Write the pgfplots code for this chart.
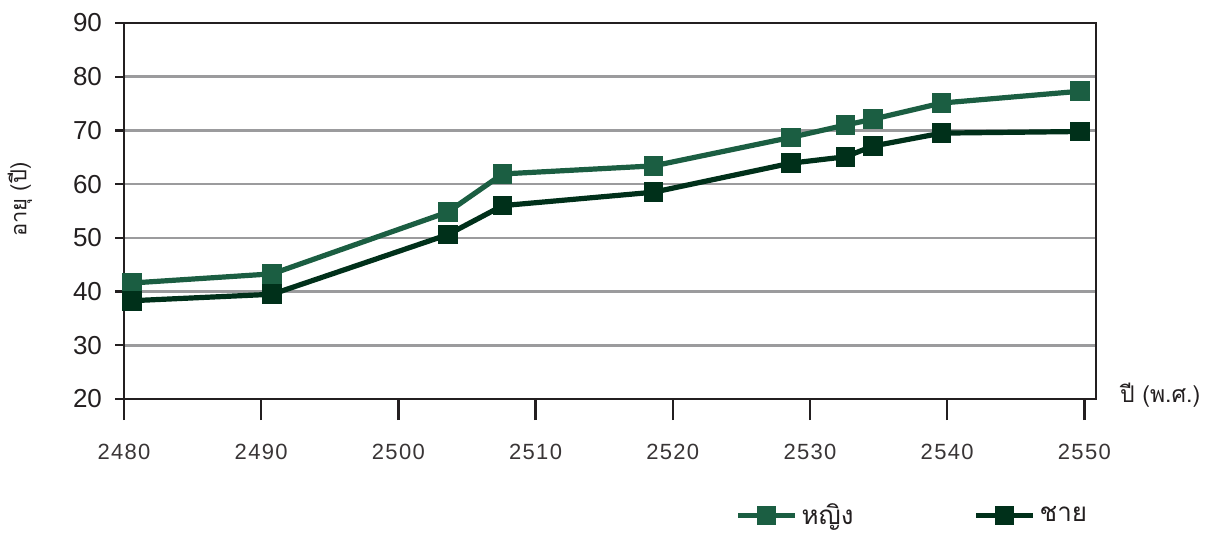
\documentclass[border=0pt]{standalone}
\usepackage{fontspec}
\setmainfont{Liberation Sans}
\newfontfamily\thaifont[Script=Thai]{Loma}
\newfontfamily\xfont[LetterSpace=6]{Liberation Sans}
\usepackage{pgfplots}
\pgfplotsset{compat=1.18}
\definecolor{fem}{HTML}{1B5E42}
\definecolor{mal}{HTML}{00301A}
\definecolor{txt}{HTML}{231F20}
\definecolor{gridc}{HTML}{9B9B9D}
\pgfplotsset{geom/.style={
  at={(62pt,68.5pt)}, anchor=south west,
  scale only axis, width=486pt, height=188pt,
  xmin=2480, xmax=2550.85, ymin=20, ymax=90,
  tick align=outside,
  axis line style={line width=1.2pt, txt},
}}
\begin{document}
\begin{tikzpicture}
\useasboundingbox (0,0) rectangle (606.5pt,268pt);
\begin{axis}[
  geom,
  clip=false,
  xtick=\empty,
  ytick={20,30,40,50,60,70,80,90},
  yticklabels={20,30,40,50,60,70,80,90},
  ytick pos=left,
  major tick length=4.5pt,
  y tick style={line width=1.2pt, txt},
  ymajorgrids, grid style={line width=1.3pt, gridc},
  yticklabel style={font=\fontsize{13}{14}\selectfont, text=txt, xshift=-3pt},
  ylabel={\thaifont อายุ (ปี)},
  ylabel style={at={(axis description cs:-0.107,0.53)}, anchor=center, font=\fontsize{11}{12}\selectfont, text=txt},
  xlabel={\thaifont ปี (พ.ศ.)},
  xlabel style={at={(axis description cs:1.066,0.01)}, anchor=center, font=\fontsize{11.5}{12}\selectfont, text=txt},
  legend columns=2,
  legend style={at={(0.812,-0.31)}, anchor=center, draw=none, fill=none,
    font=\thaifont\fontsize{13}{14}\selectfont, text=txt,
    /tikz/every even column/.append style={column sep=58pt}},
  legend image code/.code={\draw[mark repeat=2,mark phase=2] plot coordinates {(0cm,0cm) (0.5cm,0cm) (1cm,0cm)};},
]
\addplot[fem, line width=2.6pt, mark=square*, mark size=3.6pt, mark options={solid}] coordinates {
  (2480.6,41.6) (2490.8,43.3) (2503.6,54.8) (2507.6,61.9) (2518.6,63.4)
  (2528.6,68.7) (2532.6,71.0) (2534.6,72.1) (2539.6,75.1) (2549.7,77.3)
};
\addlegendentry{หญิง}
\addplot[mal, line width=2.6pt, mark=square*, mark size=3.6pt, mark options={solid}] coordinates {
  (2480.6,38.3) (2490.8,39.5) (2503.6,50.6) (2507.6,56.0) (2518.6,58.5)
  (2528.6,63.9) (2532.6,65.1) (2534.6,67.1) (2539.6,69.5) (2549.7,69.8)
};
\addlegendentry{ชาย}
\end{axis}
\begin{axis}[
  geom,
  hide y axis,
  axis x line*=bottom,
  xtick={2480,2490,2500,2510,2520,2530,2540,2550},
  xticklabels={2480,2490,2500,2510,2520,2530,2540,2550},
  major tick length=10.5pt,
  x tick style={line width=1.2pt, txt},
  xticklabel style={font=\xfont\fontsize{11}{12}\selectfont, text=txt!90, yshift=-8.5pt},
]
\addplot[draw=none] coordinates {(2500,50)};
\end{axis}
\end{tikzpicture}
\end{document}
